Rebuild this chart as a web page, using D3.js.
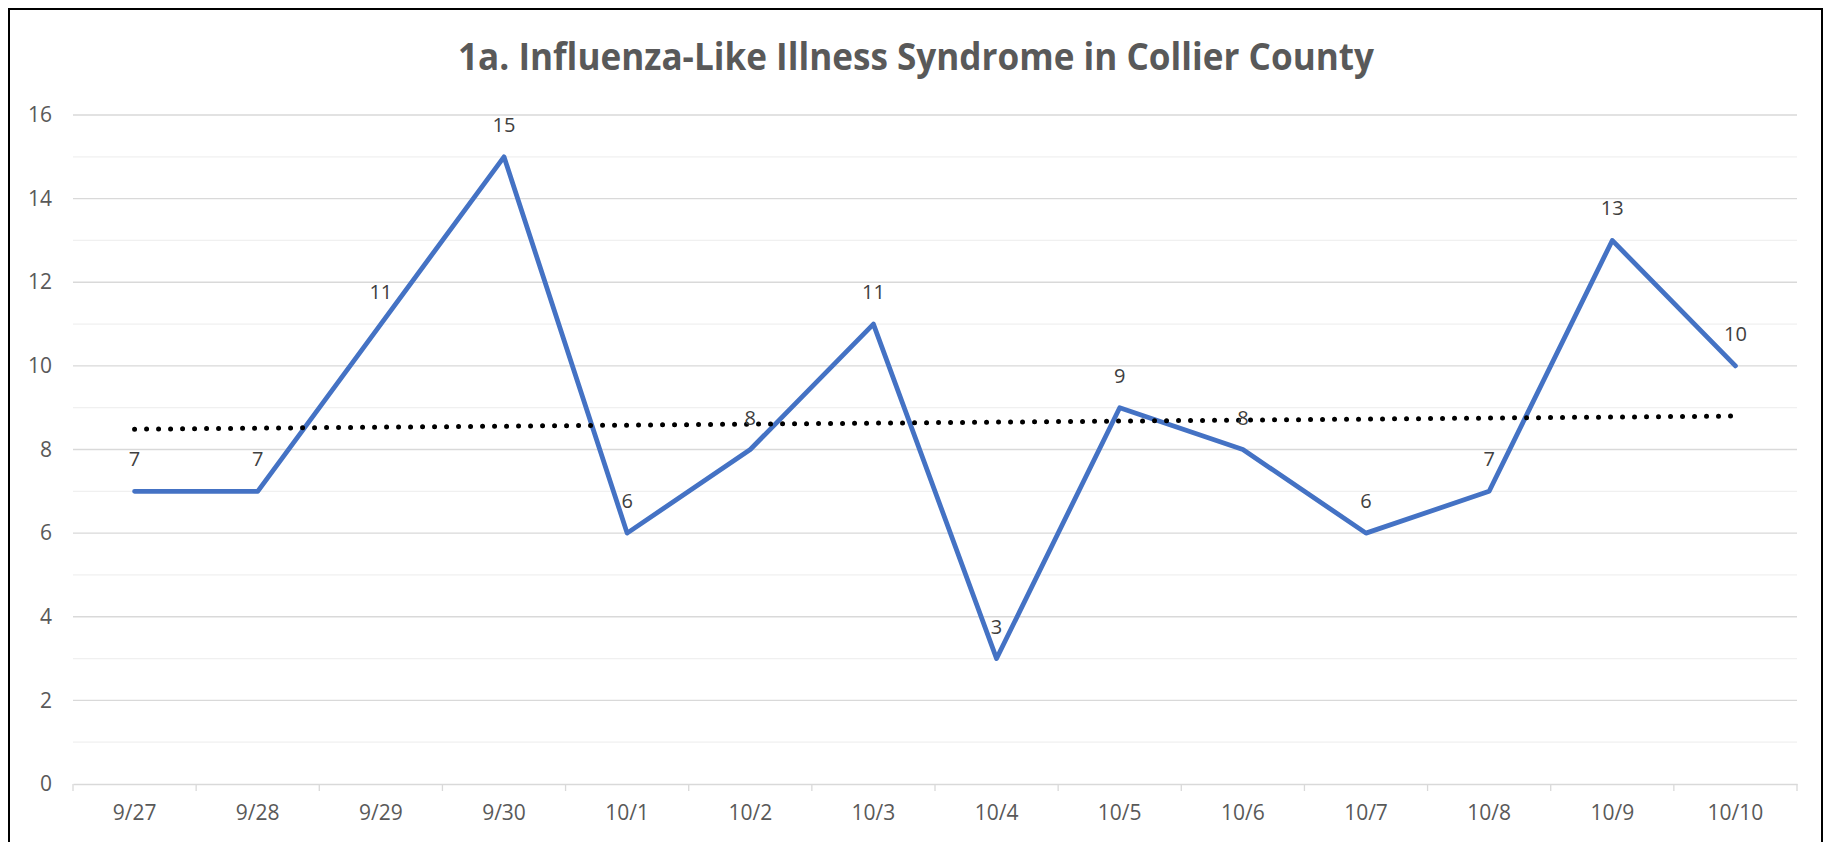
<!DOCTYPE html>
<html>
<head>
<meta charset="utf-8">
<script src="https://cdn.jsdelivr.net/npm/d3@7"></script>
<style>
  html, body { margin: 0; padding: 0; background: #fff; overflow: hidden; }
  svg { display: block; font-family: "Open Sans", "Noto Sans", sans-serif; }
</style>
</head>
<body>
<svg></svg>
<script>
const width = 1832;
const height = 842;

// data
const days = ["9/27", "9/28", "9/29", "9/30", "10/1", "10/2", "10/3", "10/4", "10/5", "10/6", "10/7", "10/8", "10/9", "10/10"];
const cases = [7, 7, 11, 15, 6, 8, 11, 3, 9, 8, 6, 7, 13, 10];
const yTicks = [0, 2, 4, 6, 8, 10, 12, 14, 16];
const titleText = "1a. Influenza-Like Illness Syndrome in Collier County";

const margin = { top: 115, right: 35, bottom: 58, left: 73 };

const svg = d3.select("svg").attr("width", width).attr("height", height);

// chart frame
svg.append("rect")
    .attr("x", 9).attr("y", 9)
    .attr("width", 1813).attr("height", 900)
    .attr("fill", "#fff")
    .attr("stroke", "#000")
    .attr("stroke-width", 2);

const x = d3.scaleBand()
    .domain(days)
    .range([margin.left, width - margin.right]);

const y = d3.scaleLinear()
    .domain([0, 16])
    .range([height - margin.bottom, margin.top]);

// minor grid (odd values)
svg.append("g")
    .selectAll("line")
    .data(d3.range(1, 16, 2))
    .enter().append("line")
    .attr("x1", margin.left).attr("x2", width - margin.right)
    .attr("y1", d => y(d)).attr("y2", d => y(d))
    .attr("stroke", "#f0f0f0")
    .attr("stroke-width", 1.3);

// major grid
svg.append("g")
    .selectAll("line")
    .data(yTicks.filter(d => d > 0))
    .enter().append("line")
    .attr("x1", margin.left).attr("x2", width - margin.right)
    .attr("y1", d => y(d)).attr("y2", d => y(d))
    .attr("stroke", "#d9d9d9")
    .attr("stroke-width", 1.3);

// y axis labels
const yAxis = svg.append("g")
    .attr("transform", `translate(${margin.left},0)`)
    .call(d3.axisLeft(y).tickValues(yTicks).tickSize(0).tickPadding(21));
yAxis.select(".domain").remove();
yAxis.selectAll("text")
    .attr("fill", "#595959")
    .style("font-size", "21px")
    .style("font-family", "'Open Sans', sans-serif");

// x axis
const xAxis = svg.append("g")
    .attr("transform", `translate(0,${y(0)})`)
    .call(d3.axisBottom(x).tickSize(0).tickPadding(21));
xAxis.select(".domain")
    .attr("stroke", "#d9d9d9")
    .attr("stroke-width", 1.3);
xAxis.selectAll("text")
    .attr("fill", "#595959")
    .style("font-size", "21px")
    .style("font-family", "'Open Sans', sans-serif");

// tick marks between categories
const boundaries = days.map(d => x(d)).concat([x(days[days.length - 1]) + x.bandwidth()]);
svg.append("g")
    .selectAll("line")
    .data(boundaries)
    .enter().append("line")
    .attr("x1", d => d).attr("x2", d => d)
    .attr("y1", y(0)).attr("y2", y(0) + 7)
    .attr("stroke", "#d9d9d9")
    .attr("stroke-width", 1.3);

const cx = d => x(d) + x.bandwidth() / 2;

// main series
const line = d3.line()
    .x((d, i) => cx(days[i]))
    .y(d => y(d));

svg.append("path")
    .datum(cases)
    .attr("d", line)
    .attr("fill", "none")
    .attr("stroke", "#4472C4")
    .attr("stroke-width", 4.8)
    .attr("stroke-linejoin", "round")
    .attr("stroke-linecap", "round");

// linear trendline (least squares on the series)
const n = cases.length;
const xs = d3.range(1, n + 1);
const mx = d3.mean(xs), my = d3.mean(cases);
const slope = d3.sum(xs, (v, i) => (v - mx) * (cases[i] - my)) / d3.sum(xs, v => (v - mx) ** 2);
const icpt = my - slope * mx;
const trend = [icpt + slope * 1, icpt + slope * n];

svg.append("line")
    .attr("x1", cx(days[0])).attr("y1", y(trend[0]))
    .attr("x2", cx(days[n - 1])).attr("y2", y(trend[1]))
    .attr("stroke", "#000")
    .attr("stroke-width", 5)
    .attr("stroke-linecap", "round")
    .attr("stroke-dasharray", "0 12");

// data labels
svg.append("g")
    .selectAll("text")
    .data(cases)
    .enter().append("text")
    .attr("x", (d, i) => cx(days[i]))
    .attr("y", d => y(d) - 25)
    .attr("text-anchor", "middle")
    .attr("fill", "#404040")
    .style("font-size", "20px")
    .text(d => d);

// title (Calibri-like: condensed to the measured width)
svg.append("text")
    .attr("x", 916)
    .attr("y", 70)
    .attr("text-anchor", "middle")
    .attr("fill", "#595959")
    .attr("textLength", 916)
    .attr("lengthAdjust", "spacingAndGlyphs")
    .style("font-weight", "bold")
    .style("font-size", "38px")
    .text(titleText);
</script>
</body>
</html>
